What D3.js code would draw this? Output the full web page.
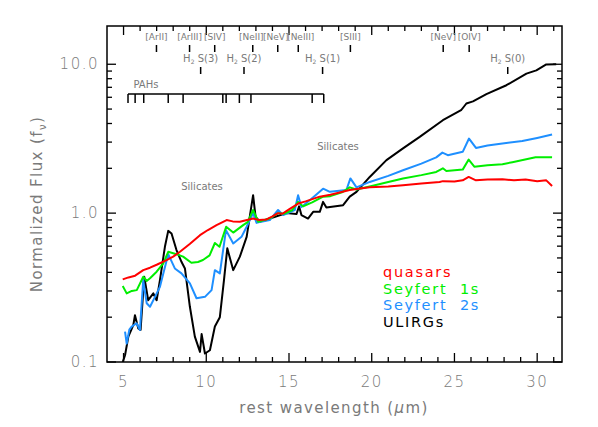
<!DOCTYPE html>
<html><head><meta charset="utf-8">
<script src="https://cdn.jsdelivr.net/npm/d3@7"></script>
<style>body{margin:0;background:#fff}svg{display:block}text{font-family:"DejaVu Sans",sans-serif;white-space:pre}</style>
</head><body>
<svg id="c" width="598" height="427"></svg>
<script>
// ---- data ----
const quasarsLam = [4.95,5.3,5.7,6.19,6.6,7.0,7.6,8.0,8.41,9.0,9.62,10.1,10.62,11.23,11.6,12.03,12.83,13.2,13.64,14.0,14.34,14.6,15.0,15.56,16.0,16.86,17.5,18.0,18.67,19.2,19.88,21.0,21.89,23.0,24.1,24.3,25.0,25.5,25.86,26.3,27.0,27.9,28.6,29.3,30.0,30.55,30.9];
const quasarsVal = [0.359,0.37,0.38,0.414,0.43,0.45,0.484,0.51,0.55,0.62,0.711,0.77,0.83,0.898,0.88,0.875,0.92,0.9,0.907,0.95,1.0,0.99,1.06,1.16,1.2,1.29,1.33,1.37,1.43,1.46,1.49,1.51,1.54,1.58,1.62,1.64,1.63,1.66,1.75,1.66,1.68,1.69,1.66,1.68,1.64,1.66,1.52];
const sy1Lam = [4.95,5.19,5.5,5.8,6.19,6.4,6.6,7.0,7.4,7.7,8.2,8.6,9.1,9.5,9.8,10.2,10.52,10.8,11.2,11.63,12.23,12.5,12.83,13.14,13.5,13.84,14.34,14.7,15.2,15.55,15.85,16.4,17.06,17.5,18.2,18.67,19.08,20.0,21.0,21.89,23.0,23.9,24.3,24.51,25.5,25.86,26.2,27.0,27.9,28.5,29.2,29.9,30.9];
const sy1Val = [0.324,0.289,0.3,0.304,0.374,0.35,0.365,0.404,0.46,0.55,0.53,0.51,0.464,0.47,0.484,0.52,0.63,0.594,0.81,0.74,0.83,0.87,1.05,0.875,0.9,0.92,1.0,0.99,1.05,1.19,1.11,1.18,1.29,1.3,1.38,1.49,1.44,1.52,1.62,1.71,1.8,1.89,2.0,1.92,1.96,2.29,2.05,2.1,2.13,2.2,2.28,2.37,2.37];
const sy2Lam = [5.09,5.19,5.35,5.49,5.79,5.99,6.19,6.4,6.6,6.9,7.2,7.7,8.1,8.5,9.01,9.41,9.92,10.32,10.52,10.82,11.19,11.63,12.13,12.44,12.83,13.04,13.4,13.84,14.34,14.65,15.35,15.55,15.75,16.36,17.06,17.47,18.47,18.71,19.08,19.88,21.0,21.89,23.0,23.9,24.27,24.6,25.5,25.88,26.3,27.0,27.9,29.1,30.0,30.9];
const sy2Val = [0.16,0.133,0.165,0.173,0.182,0.164,0.355,0.248,0.235,0.274,0.32,0.53,0.425,0.394,0.337,0.268,0.274,0.304,0.414,0.394,0.769,0.626,0.693,0.81,1.0,0.86,0.88,0.898,1.05,0.97,1.05,1.32,1.10,1.25,1.46,1.39,1.43,1.71,1.49,1.62,1.78,1.94,2.15,2.37,2.55,2.45,2.58,3.17,2.74,2.85,2.94,3.05,3.2,3.37];
const ulirgLam = [4.95,5.09,5.29,5.59,5.69,5.89,6.03,6.25,6.49,6.8,7.0,7.2,7.5,7.7,7.9,8.2,8.5,8.71,9.01,9.31,9.62,9.72,9.92,10.22,10.52,10.82,11.07,11.27,11.63,12.03,12.44,12.83,12.98,13.24,13.84,14.85,15.45,15.61,15.75,16.15,16.46,16.86,17.06,17.26,18.27,18.67,19.08,19.88,20.89,21.89,22.9,24.3,25.4,25.72,26.12,26.93,28.14,29.35,29.95,30.55,31.15];
const ulirgVal = [0.1,0.111,0.148,0.177,0.206,0.168,0.164,0.374,0.26,0.289,0.26,0.355,0.594,0.76,0.73,0.565,0.471,0.425,0.235,0.148,0.117,0.154,0.114,0.12,0.173,0.2,0.355,0.58,0.414,0.51,0.693,1.32,0.945,0.875,0.92,1.0,0.985,1.11,0.97,0.92,1.02,1.02,1.19,1.09,1.13,1.29,1.39,1.75,2.27,2.72,3.25,4.21,4.91,5.45,5.63,6.3,7.23,8.65,9.1,9.97,10.0];
const seriesNames = ["quasars","Seyfert  1s","Seyfert  2s","ULIRGs"];
const seriesColors = ["#ff0000","#00ee00","#1e8fff","#000000"];
const lineLabels = ["[ArII]","[ArIII]","[SIV]","[NeII]","[NeV]","[NeIII]","[SIII]","[NeV]","[OIV]"];
const lineLam = [6.99,8.99,10.51,12.81,14.32,15.56,18.71,24.32,25.89];
const h2Labels = ["S(3)","S(2)","S(1)","S(0)"];
const h2Lam = [9.66,12.28,17.03,28.22];
const pahLam = [5.27,5.70,6.22,7.7,8.6,11.0,11.2,12.0,12.7,16.4,17.1];
const xTicks = [5,10,15,20,25,30];
const yTicks = [0.1,1,10];

// ---- layout ----
const svg = d3.select("#c");
const L=107, R=562, T=26, B=362;
const x = d3.scaleLinear().domain([4,31.5]).range([L,R]);
const y = d3.scaleLog().domain([0.1,18.07]).range([B,T]);
const gray = "#7a7a7a";

svg.append("defs").append("clipPath").attr("id","clip")
  .append("rect").attr("x",L).attr("y",T).attr("width",R-L).attr("height",B-T);

// series
const all = [
  {lam:ulirgLam,val:ulirgVal,c:seriesColors[3]},
  {lam:sy2Lam,val:sy2Val,c:seriesColors[2]},
  {lam:sy1Lam,val:sy1Val,c:seriesColors[1]},
  {lam:quasarsLam,val:quasarsVal,c:seriesColors[0]}
];
const line = d3.line().x(d=>x(d[0])).y(d=>y(d[1]));
const gl = svg.append("g").attr("clip-path","url(#clip)");
all.forEach(s=>{
  gl.append("path").datum(s.lam.map((l,i)=>[l,s.val[i]]))
    .attr("d",line).attr("fill","none").attr("stroke",s.c).attr("stroke-width",2).attr("stroke-linejoin","round");
});

// frame & ticks
svg.append("rect").attr("x",L).attr("y",T).attr("width",R-L).attr("height",B-T)
  .attr("fill","none").attr("stroke","#000").attr("stroke-width",1.5);
const minorX = d3.range(5,32,1);
const tk = svg.append("g").attr("stroke","#000").attr("stroke-width",1.3);
minorX.forEach(v=>{
  const len = (v%5===0)?9:5;
  tk.append("line").attr("x1",x(v)).attr("x2",x(v)).attr("y1",B).attr("y2",B-len);
  tk.append("line").attr("x1",x(v)).attr("x2",x(v)).attr("y1",T).attr("y2",T+len);
});
const minorY = [];
[0.1,1,10].forEach(d=>{for(let k=1;k<10;k++){const v=d*k; if(v<=18) minorY.push(v);}});
minorY.forEach(v=>{
  const major = yTicks.includes(+v.toFixed(3));
  const len = major?9:5;
  tk.append("line").attr("x1",L).attr("x2",L+len).attr("y1",y(v)).attr("y2",y(v));
  tk.append("line").attr("x1",R).attr("x2",R-len).attr("y1",y(v)).attr("y2",y(v));
});

// tick labels
svg.append("g").selectAll("text").data(xTicks).join("text")
  .attr("x",d=>x(d)).attr("y",387).attr("text-anchor","middle").attr("letter-spacing",1.5)
  .attr("fill",gray).attr("font-size",15).attr("font-weight",300).text(d=>d);
svg.append("g").selectAll("text").data(yTicks).join("text")
  .attr("x",99).attr("y",d=>y(d)+5).attr("text-anchor","end").attr("letter-spacing",1.5)
  .attr("fill",gray).attr("font-size",15).attr("font-weight",300).text(d=>d.toFixed(1));

// axis titles
svg.append("text").attr("x",334).attr("y",413).attr("text-anchor","middle")
  .attr("fill",gray).attr("font-size",15).attr("letter-spacing",1.4)
  .html('rest wavelength (<tspan font-style="italic">μ</tspan>m)');
svg.append("text").attr("transform","translate(42,204) rotate(-90)").attr("text-anchor","middle")
  .attr("fill",gray).attr("font-size",15).attr("letter-spacing",1.4)
  .html('Normalized Flux (f<tspan font-size="10" dy="4">ν</tspan><tspan dy="-4">)</tspan>');

// line annotations
const AF = "'Liberation Sans',sans-serif";
const ann = svg.append("g");
const nudge = {"[NeII]":-1.5,"[NeV]":-2,"[NeIII]":2.5};
lineLabels.forEach((t,i)=>{
  const xx=x(lineLam[i]);
  ann.append("line").attr("x1",xx).attr("x2",xx).attr("y1",45).attr("y2",52).attr("stroke","#000").attr("stroke-width",1.5);
  const dx = (i<6 && nudge[t]!==undefined) ? nudge[t] : 0;
  ann.append("text").attr("x",xx+dx).attr("y",40).attr("text-anchor","middle")
    .attr("fill",gray).attr("font-size",9).attr("font-family",AF).text(t);
});
h2Labels.forEach((t,i)=>{
  const xx=x(h2Lam[i]);
  ann.append("line").attr("x1",xx).attr("x2",xx).attr("y1",67).attr("y2",74).attr("stroke","#000").attr("stroke-width",1.5);
  ann.append("text").attr("x",xx).attr("y",62).attr("text-anchor","middle")
    .attr("fill",gray).attr("font-size",10).attr("font-family",AF)
    .html('H<tspan font-size="6" dy="2">2</tspan><tspan dy="-2"> '+t+'</tspan>');
});
// PAHs
const pg = ann.append("g").attr("stroke","#000").attr("stroke-width",1.5);
pg.append("line").attr("x1",x(pahLam[0])).attr("x2",x(pahLam[pahLam.length-1])).attr("y1",94).attr("y2",94);
pahLam.forEach(l=>pg.append("line").attr("x1",x(l)).attr("x2",x(l)).attr("y1",94).attr("y2",103));
ann.append("text").attr("x",x(5.6)).attr("y",88).attr("fill",gray).attr("font-size",10).attr("font-family",AF).text("PAHs");
ann.append("text").attr("x",202).attr("y",190).attr("text-anchor","middle").attr("fill",gray).attr("font-size",10).attr("font-family",AF).text("Silicates");
ann.append("text").attr("x",338).attr("y",150).attr("text-anchor","middle").attr("fill",gray).attr("font-size",10).attr("font-family",AF).text("Silicates");

// legend
seriesNames.forEach((n,i)=>{
  svg.append("text").attr("x",383).attr("y",277+i*16.7).attr("fill",seriesColors[i])
    .attr("font-size",14.5).attr("letter-spacing",1.7).text(n);
});
</script>
</body></html>
